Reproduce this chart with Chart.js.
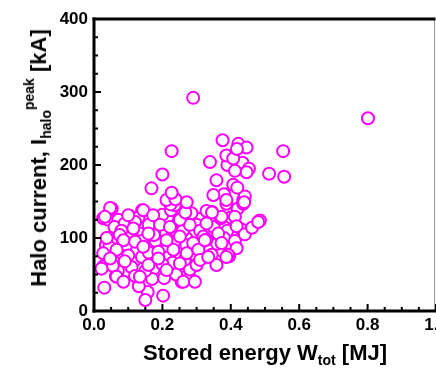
<!DOCTYPE html>
<html>
<head>
<meta charset="utf-8">
<script src="https://cdn.jsdelivr.net/npm/chart.js@4/dist/chart.umd.min.js"></script>
<style>
  body { margin: 0; background: #fff; }
  .wrap { position: relative; width: 436px; height: 369px; overflow: hidden; }
  .axis-title {
    position: absolute;
    font-family: "Liberation Sans", Arial, sans-serif;
    font-weight: bold;
    font-size: 22px;
    color: #000;
    white-space: nowrap;
    line-height: 1;
  }
  .axis-title .lo { font-size: 14px; position: relative; top: 5px; }
  .axis-title .hi { font-size: 14px; position: relative; top: -12px; }
  #xTitle { left: 265px; top: 353px; transform: translate(-50%, -50%); }
  #yTitle { left: 39px; top: 158px; transform: translate(-50%, -50%) rotate(-90deg); }
</style>
</head>
<body>
<div class="wrap">
  <canvas id="chart" width="436" height="369"></canvas>
  <div class="axis-title" id="xTitle">Stored energy W<span class="lo">tot</span> [MJ]</div>
  <div class="axis-title" id="yTitle">Halo current, I<span class="lo">halo</span><span class="hi">peak</span> [kA]</div>
</div>
<script>
// stored energy [MJ], peak halo current [kA]
const lowCluster = [
  [0.027,127],[0.042,125],[0.052,140],[0.071,125],[0.105,130],[0.141,138],[0.175,129],[0.193,116],
  [0.134,106],[0.042,100],[0.066,88],[0.105,86],[0.042,74],[0.091,68],[0.027,61],[0.030,32],
  [0.064,48],[0.100,54],[0.139,86],[0.163,65],[0.190,79],[0.186,53],[0.157,26],[0.150,15],
  [0.202,21],[0.131,34],[0.241,126],[0.256,115],[0.244,99],[0.236,77],[0.287,95],[0.295,106],
  [0.309,126],[0.298,63],[0.280,46],[0.256,40],[0.251,61],
  [0.06,115],[0.09,120],[0.13,128],[0.17,112],[0.22,124],[0.27,100],[0.30,118],[0.08,80],
  [0.12,70],[0.18,62],[0.22,75],[0.26,88],[0.29,78],[0.05,95],[0.11,104],[0.19,92],
  [0.24,108],[0.28,57],[0.07,55],[0.14,96],[0.205,45],[0.235,95],[0.31,92],[0.155,71],
  [0.095,90],[0.035,90],[0.265,70],[0.175,58],[0.125,82],[0.215,128],
  [0.12,122],[0.08,110],[0.16,118],[0.21,108],[0.18,96],[0.12,95],[0.23,66],[0.17,44],
  [0.11,60],[0.055,62],[0.2,132],[0.14,74],[0.27,90],[0.26,110],[0.31,110],[0.075,104],
  [0.2,64],[0.24,50],[0.15,55],[0.10,76],[0.215,89],[0.175,104],[0.28,118],[0.045,88],
  [0.12,48],[0.16,80],[0.225,138],[0.32,102],
  [0.047,141],[0.032,129],[0.100,131],[0.144,138],[0.173,131],[0.193,118],[0.222,115],[0.251,125],
  [0.236,145],[0.115,113],[0.159,106],[0.037,100],[0.086,97],[0.066,84],[0.144,88],[0.188,81],
  [0.232,84],[0.251,102],[0.212,97],[0.027,79],
  [0.047,72],[0.090,68],[0.159,63],[0.022,58],[0.066,47],[0.134,47],[0.212,56],[0.251,65],
  [0.188,72],[0.086,40],[0.261,40],[0.285,134],[0.290,93],[0.271,79],[0.305,84],[0.300,63],
  [0.295,40]
];

const highBranch = [
  [0.35,115],[0.39,110],[0.40,128],[0.36,92],[0.42,140],[0.38,160],[0.43,112],[0.40,90],
  [0.31,70],[0.38,100],
  [0.329,120],[0.329,98],[0.337,75],[0.358,68],[0.363,106],[0.370,127],[0.412,129],[0.417,116],
  [0.412,96],[0.417,86],[0.395,75],[0.441,105],[0.462,114],[0.485,124],[0.480,122],
  [0.387,147],[0.436,147],[0.344,136],[0.373,129],[0.324,97],[0.373,93],[0.344,77],[0.392,77],
  [0.358,63],[0.387,74],[0.334,74],[0.329,137],[0.345,135],[0.267,135],[0.271,149],[0.224,146],
  [0.212,152],[0.238,153],[0.227,162],[0.387,152],[0.436,152],[0.349,159],[0.441,157],[0.439,149],
  [0.358,179],[0.407,173],[0.419,169],[0.339,204],[0.390,200],[0.434,203],[0.453,195],[0.446,190],
  [0.412,192],[0.387,213],[0.407,209],[0.376,234],[0.422,229],[0.446,224],[0.418,222]
];

const outliers = [
  [0.29,292],[0.801,264],[0.227,219],[0.553,219],[0.556,184],[0.512,188],[0.200,187],[0.168,168]
];

const xTicks = [0, 0.2, 0.4, 0.6, 0.8, 1.0];
const yTicks = [0, 100, 200, 300, 400];

const tickFont = { family: '"Liberation Sans", Arial, sans-serif', size: 17, weight: 'bold' };

// frame + inward tick marks, like the original plot
const frameTicks = {
  id: 'frameTicks',
  afterDatasetsDraw(chart) {
    const { ctx, chartArea: a, scales: { x, y } } = chart;
    const seg = (x1, y1, x2, y2) => { ctx.beginPath(); ctx.moveTo(x1, y1); ctx.lineTo(x2, y2); ctx.stroke(); };
    ctx.save();
    ctx.strokeStyle = '#999';
    ctx.lineWidth = 1;
    seg(a.right - 1.5, a.top, a.right - 1.5, a.bottom);
    ctx.strokeStyle = '#000';
    ctx.lineWidth = 2;
    for (let i = 0; i <= 20; i++) {
      const px = x.getPixelForValue(i * 0.05);
      seg(px, a.bottom, px, a.bottom - (i % 4 === 0 ? 7 : 4));
    }
    for (let i = 0; i <= 16; i++) {
      const py = y.getPixelForValue(i * 25);
      seg(a.left, py, a.left + (i % 4 === 0 ? 7 : 4), py);
    }
    ctx.lineWidth = 3;
    ctx.lineCap = 'square';
    seg(a.left, a.bottom, a.left, a.top);
    seg(a.left, a.top, a.right - 2, a.top);
    seg(a.left, a.bottom, a.right, a.bottom);
    ctx.restore();
  }
};

new Chart(document.getElementById('chart'), {
  type: 'scatter',
  data: {
    datasets: [{
      data: lowCluster.concat(highBranch, outliers).map(([w, i]) => ({ x: w, y: i })),
      pointStyle: 'circle',
      pointRadius: 6,
      pointHoverRadius: 6,
      borderWidth: 2,
      borderColor: '#ff00ff',
      backgroundColor: '#ffffff'
    }]
  },
  options: {
    responsive: false,
    animation: false,
    events: [],
    layout: { autoPadding: false, padding: { top: 19, right: 0, left: 0, bottom: 0 } },
    plugins: { legend: { display: false }, tooltip: { enabled: false } },
    scales: {
      x: {
        type: 'linear',
        min: 0,
        max: 1,
        afterBuildTicks: s => { s.ticks = xTicks.map(v => ({ value: v })); },
        afterFit: s => { s.height = 58; s.paddingLeft = 0; s.paddingRight = 0; },
        grid: { display: false, drawTicks: false },
        border: { display: false },
        ticks: {
          padding: 4,
          color: '#000',
          font: tickFont,
          maxRotation: 0,
          autoSkip: false,
          callback: v => v.toFixed(1)
        }
      },
      y: {
        type: 'linear',
        min: 0,
        max: 400,
        afterBuildTicks: s => { s.ticks = yTicks.map(v => ({ value: v })); },
        afterFit: s => { s.width = 94; s.paddingTop = 0; s.paddingBottom = 0; },
        grid: { display: false, drawTicks: false },
        border: { display: false },
        ticks: {
          padding: 6,
          color: '#000',
          font: tickFont,
          autoSkip: false
        }
      }
    }
  },
  plugins: [frameTicks]
});
</script>
</body>
</html>
